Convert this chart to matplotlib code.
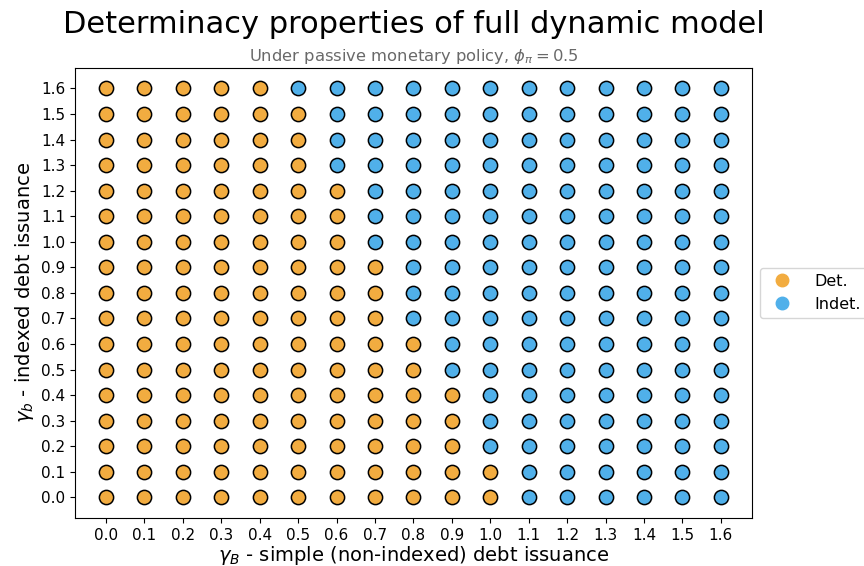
import numpy as np
import matplotlib
matplotlib.use("Agg")
import matplotlib.pyplot as plt

# grid of parameter values
gamma_B = [round(0.1 * i, 1) for i in range(17)]   # simple debt issuance (x)
gamma_b = [round(0.1 * i, 1) for i in range(17)]   # indexed debt issuance (y)

# largest gamma_B that is still determinate, for each gamma_b row (0.0 ... 1.6)
det_max_gamma_B = [1.0, 1.0, 0.9, 0.9, 0.9, 0.8, 0.8, 0.7, 0.7, 0.7,
                   0.6, 0.6, 0.6, 0.5, 0.5, 0.5, 0.4]

labels = ["Det.", "Indet."]
colors = ["#F2AC40", "#50B0EA"]

xs, ys, det = [], [], []
for yb, lim in zip(gamma_b, det_max_gamma_B):
    for xB in gamma_B:
        xs.append(xB)
        ys.append(yb)
        det.append(xB <= lim + 1e-9)
xs = np.array(xs)
ys = np.array(ys)
det = np.array(det)

fig = plt.figure(figsize=(8.64, 5.66), dpi=100)
ax = fig.add_axes([0.087, 0.085, 0.783, 0.795])

ax.scatter(xs[det], ys[det], s=105, c=colors[0], edgecolors="black", linewidths=1.1, zorder=3)
ax.scatter(xs[~det], ys[~det], s=105, c=colors[1], edgecolors="black", linewidths=1.1, zorder=3)

ax.set_xticks(gamma_B)
ax.set_yticks(gamma_b)
ax.set_xticklabels(["%.1f" % v for v in gamma_B])
ax.set_yticklabels(["%.1f" % v for v in gamma_b])
ax.tick_params(labelsize=11)

ax.set_xlabel(r"$\gamma_B$ - simple (non-indexed) debt issuance", fontsize=14, labelpad=1)
ax.set_ylabel(r"$\gamma_b$ - indexed debt issuance", fontsize=14)

# title centred over the axes
fig.suptitle("Determinacy properties of full dynamic model", fontsize=22,
             x=0.087 + 0.783 / 2, y=0.982)
ax.set_title(r"Under passive monetary policy, $\phi_{\pi} = 0.5$", fontsize=11.8,
             color="dimgray", pad=5)

handles = [plt.Line2D([], [], marker="o", linestyle="", markersize=9,
                      markerfacecolor=c, markeredgecolor=c) for c in colors]
ax.legend(handles, labels, loc="center left", bbox_to_anchor=(1.0, 0.5),
          fontsize=11.5, handletextpad=1.0)

fig.savefig("out.png", dpi=100)
